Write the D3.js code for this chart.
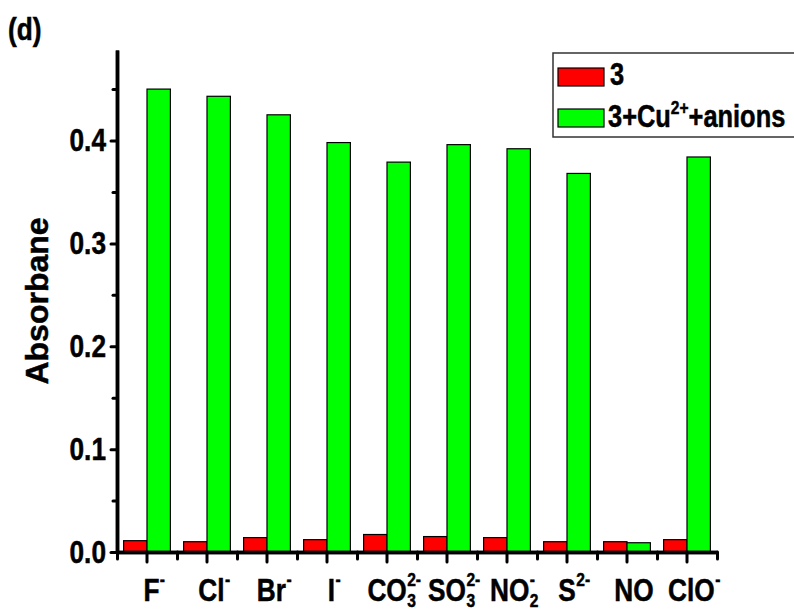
<!DOCTYPE html>
<html>
<head>
<meta charset="utf-8">
<script src="https://cdn.jsdelivr.net/npm/d3@7"></script>
<style>
  body { margin: 0; background: #fff; }
  text { font-family: 'Liberation Sans', Arial, sans-serif; font-weight: bold; stroke: #000; stroke-width: 0.5px; }
</style>
</head>
<body>
<svg id="chart"></svg>
<script>
// Data
const categories = ['F', 'Cl', 'Br', 'I', 'CO3', 'SO3', 'NO2', 'S', 'NO', 'ClO'];
const labelMain = ['F', 'Cl', 'Br', 'I', 'CO', 'SO', 'NO', 'S', 'NO', 'ClO'];
const labelSup = ['-', '-', '-', '-', '2-', '2-', '-', '2-', '', '-'];
const labelSub = ['', '', '', '', '3', '3', '2', '', '', ''];
const values3 = [0.011, 0.010, 0.014, 0.012, 0.017, 0.015, 0.014, 0.010, 0.010, 0.012];
const valuesCu = [0.450, 0.443, 0.425, 0.398, 0.379, 0.396, 0.392, 0.368, 0.009, 0.384];
const yTicks = [0.0, 0.1, 0.2, 0.3, 0.4];
const yMinor = [0.05, 0.15, 0.25, 0.35, 0.45];

const width = 794;
const height = 611;
const plotLeft = 117, plotRight = 717, plotTop = 50, plotBottom = 552;
const squeeze = 0.82; // the figure uses a narrow bold face

const svg = d3.select('#chart')
  .attr('width', width)
  .attr('height', height);

// Scales
const x = d3.scaleBand()
  .domain(categories)
  .range([plotLeft, plotRight])
  .paddingInner(0.22)
  .paddingOuter(0.11);

const xIndex = d3.scaleLinear()
  .domain([0, categories.length])
  .range([plotLeft, plotRight]);

const y = d3.scaleLinear()
  .domain([0, 0.488])
  .range([plotBottom, plotTop]);

const bw = x.bandwidth() / 2;

// Bars
const rows = categories.map((c, i) => ({ c, a: values3[i], b: valuesCu[i] }));

svg.selectAll('.bar3')
  .data(rows)
  .enter()
  .append('rect')
  .attr('class', 'bar3')
  .attr('x', d => x(d.c))
  .attr('y', d => y(d.a))
  .attr('width', bw)
  .attr('height', d => y(0) - y(d.a))
  .attr('fill', '#ff0000')
  .attr('stroke', '#000')
  .attr('stroke-width', 1.2);

svg.selectAll('.barCu')
  .data(rows)
  .enter()
  .append('rect')
  .attr('class', 'barCu')
  .attr('x', d => x(d.c) + bw)
  .attr('y', d => y(d.b))
  .attr('width', bw)
  .attr('height', d => y(0) - y(d.b))
  .attr('fill', '#00ff00')
  .attr('stroke', '#000')
  .attr('stroke-width', 1.2);

// Axes
function styleAxis(g) {
  g.select('.domain').attr('stroke-width', 3.5);
  g.selectAll('.tick line').attr('stroke-width', 3).attr('stroke-linecap', 'round');
}

svg.append('g')
  .attr('transform', `translate(0, ${plotBottom})`)
  .call(d3.axisBottom(xIndex).tickValues(d3.range(0, categories.length + 1)).tickSize(7).tickSizeOuter(0).tickFormat(''))
  .call(styleAxis);

svg.append('g')
  .attr('transform', `translate(0, ${plotBottom})`)
  .call(d3.axisBottom(x).tickSize(10).tickSizeOuter(0).tickFormat(''))
  .call(styleAxis);

svg.append('g')
  .attr('transform', `translate(${plotLeft}, 0)`)
  .call(d3.axisLeft(y).tickValues(yMinor).tickSize(4).tickSizeOuter(0).tickFormat(''))
  .call(styleAxis);

const yAxis = svg.append('g')
  .attr('transform', `translate(${plotLeft}, 0)`)
  .call(d3.axisLeft(y).tickValues(yTicks).tickSize(6).tickSizeOuter(0).tickPadding(5).tickFormat(d3.format('.1f')))
  .call(styleAxis);

yAxis.attr('font-family', null).attr('font-size', null);
yAxis.selectAll('.tick text')
  .attr('font-size', 32)
  .attr('fill', '#000')
  .attr('x', -11 / squeeze)
  .attr('transform', `scale(${squeeze},1)`);

// Category labels with stacked super/subscripts
categories.forEach((c, i) => {
  const g = svg.append('g').attr('fill', '#000');
  const main = g.append('text').attr('font-size', 32).attr('x', 0).attr('y', 0).text(labelMain[i]);
  const w = main.node().getComputedTextLength();
  let extra = 0;
  if (labelSup[i]) {
    const s = g.append('text').attr('font-size', 19).attr('x', w + 0.5).attr('y', -15).text(labelSup[i]);
    extra = Math.max(extra, s.node().getComputedTextLength());
  }
  if (labelSub[i]) {
    const s = g.append('text').attr('font-size', 19).attr('x', w + 0.5).attr('y', 6).text(labelSub[i]);
    extra = Math.max(extra, s.node().getComputedTextLength());
  }
  const total = (w + extra) * squeeze;
  const cx = x(c) + x.bandwidth() / 2 + 7;
  g.attr('transform', `translate(${cx - total / 2}, 601) scale(${squeeze},1)`);
});

// Y title
svg.append('text')
  .attr('transform', `translate(48, ${(plotTop + plotBottom) / 2}) rotate(-90)`)
  .attr('text-anchor', 'middle')
  .attr('font-size', 32)
  .text('Absorbane');

// Panel label
svg.append('text')
  .attr('transform', `translate(8, 40) scale(${squeeze},1)`)
  .attr('font-size', 32)
  .text('(d)');

// Legend
const legend = svg.append('g');
legend.append('rect')
  .attr('x', 553).attr('y', 53)
  .attr('width', 260).attr('height', 84)
  .attr('fill', '#fff')
  .attr('stroke', '#333')
  .attr('stroke-width', 1.5);

legend.append('rect')
  .attr('x', 558).attr('y', 68).attr('width', 46).attr('height', 18)
  .attr('fill', '#ff0000').attr('stroke', '#000').attr('stroke-width', 1.2);
legend.append('text')
  .attr('transform', `translate(610, 85) scale(${squeeze},1)`)
  .attr('font-size', 31)
  .text('3');

legend.append('rect')
  .attr('x', 558).attr('y', 109).attr('width', 46).attr('height', 18)
  .attr('fill', '#00ff00').attr('stroke', '#000').attr('stroke-width', 1.2);
const lt = legend.append('text')
  .attr('transform', `translate(608, 127) scale(${squeeze},1)`)
  .attr('font-size', 31);
lt.append('tspan').text('3+Cu');
lt.append('tspan').attr('font-size', 19).attr('dy', -13).text('2+');
lt.append('tspan').attr('dy', 13).text('+anions');
</script>
</body>
</html>
